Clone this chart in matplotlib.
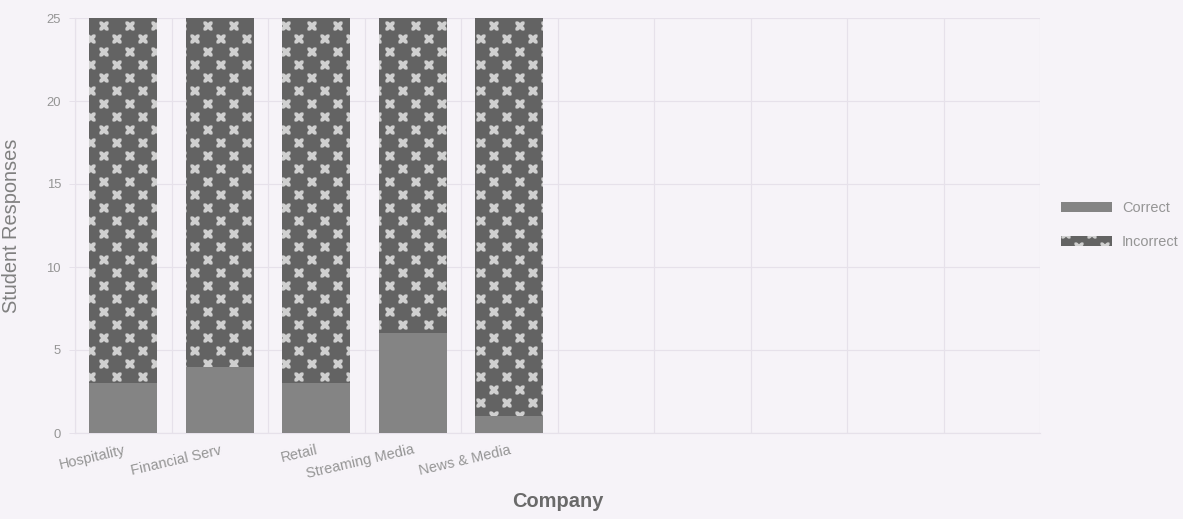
import matplotlib
matplotlib.use("Agg")
import matplotlib.pyplot as plt
import numpy as np

# dados do grafico
empresas = ["Hospitality", "Financial Serv", "Retail", "Streaming Media", "News & Media"]
corretas = [3, 4, 3, 6, 1]
incorretas = [22, 21, 22, 19, 24]
n_slots = 10  # o eixo x reserva espaco para 10 categorias

DPI = 78  # escolhido para o hatch "x" ter o mesmo passo (~26 px) do original


def px(v):
    # converte pixels em pontos
    return v * 72.0 / DPI


fundo = "#f6f3f8"
cinza_txt = "#959595"
cor_grade = "#e6e1ea"
cor_inc = "#636363"
lw_x = px(4.2)
lw_corte = px(3.8)

plt.rcParams["font.family"] = ["Liberation Sans", "DejaVu Sans"]

fig = plt.figure(figsize=(1183 / DPI, 519 / DPI), dpi=DPI, facecolor=fundo)
ax = fig.add_axes([75 / 1183, 86 / 519, 965 / 1183, 415 / 519])
ax.set_facecolor(fundo)

x = np.arange(len(empresas))
b0 = ax.bar(x, corretas, width=0.7, color="#848484", linewidth=0, label="Correct", zorder=3)

# barras "Incorrect": hatch em x claro...
plt.rcParams["hatch.linewidth"] = lw_x
b1 = ax.bar(x, incorretas, width=0.7, bottom=corretas, color=cor_inc,
            edgecolor="#d0d0d0", hatch="x", linewidth=0, zorder=3)
# ...e uma grade "+" escura por cima que corta as linhas, sobrando so os "x"
plt.rcParams["hatch.linewidth"] = lw_corte
b2 = ax.bar(x, incorretas, width=0.7, bottom=corretas, color="none",
            edgecolor=cor_inc, hatch="+", linewidth=0, zorder=4)
for p in b1:
    if hasattr(p, "set_hatch_linewidth"):
        p.set_hatch_linewidth(lw_x)
for p in b2:
    if hasattr(p, "set_hatch_linewidth"):
        p.set_hatch_linewidth(lw_corte)

ax.set_xlim(-0.5, n_slots - 0.5)
ax.set_ylim(0, 25)
ax.set_yticks([0, 5, 10, 15, 20, 25])
ax.set_xticks(x)
ax.set_xticklabels(empresas, rotation=13, ha="right", rotation_mode="anchor")
ax.set_xticks(np.arange(n_slots + 1) - 0.5, minor=True)

# grade clarinha
ax.grid(axis="y", color=cor_grade, linewidth=px(1.2), zorder=0)
ax.grid(axis="x", which="minor", color=cor_grade, linewidth=px(1.2), zorder=0)
ax.tick_params(axis="x", which="both", length=0, labelcolor=cinza_txt,
               labelsize=px(14.5), pad=px(10))
ax.tick_params(axis="y", length=px(6), width=px(1), color=cor_grade,
               labelcolor=cinza_txt, labelsize=px(13), pad=px(8))

for lado in ["top", "right"]:
    ax.spines[lado].set_visible(False)
for lado in ["left", "bottom"]:
    ax.spines[lado].set_color(cor_grade)
    ax.spines[lado].set_linewidth(px(1.2))

ax.set_ylabel("Student Responses", color="#808080", fontsize=px(20))
ax.yaxis.set_label_coords(-0.056, 0.5)
ax.set_xlabel("Company", color="#6a6a6a", fontsize=px(20), fontweight="bold")
ax.xaxis.set_label_coords(0.5, -0.142)

leg = ax.legend([b0, (b1, b2)], ["Correct", "Incorrect"],
                loc="center left", bbox_to_anchor=(1061 / 1183, 1 - 225 / 519),
                bbox_transform=fig.transFigure,
                frameon=False, fontsize=px(14.5), handlelength=3.5,
                handleheight=0.7, labelspacing=1.35, handletextpad=0.7,
                borderpad=0, borderaxespad=0)
for t in leg.get_texts():
    t.set_color(cinza_txt)

fig.savefig("out.png", dpi=DPI, facecolor=fundo)
